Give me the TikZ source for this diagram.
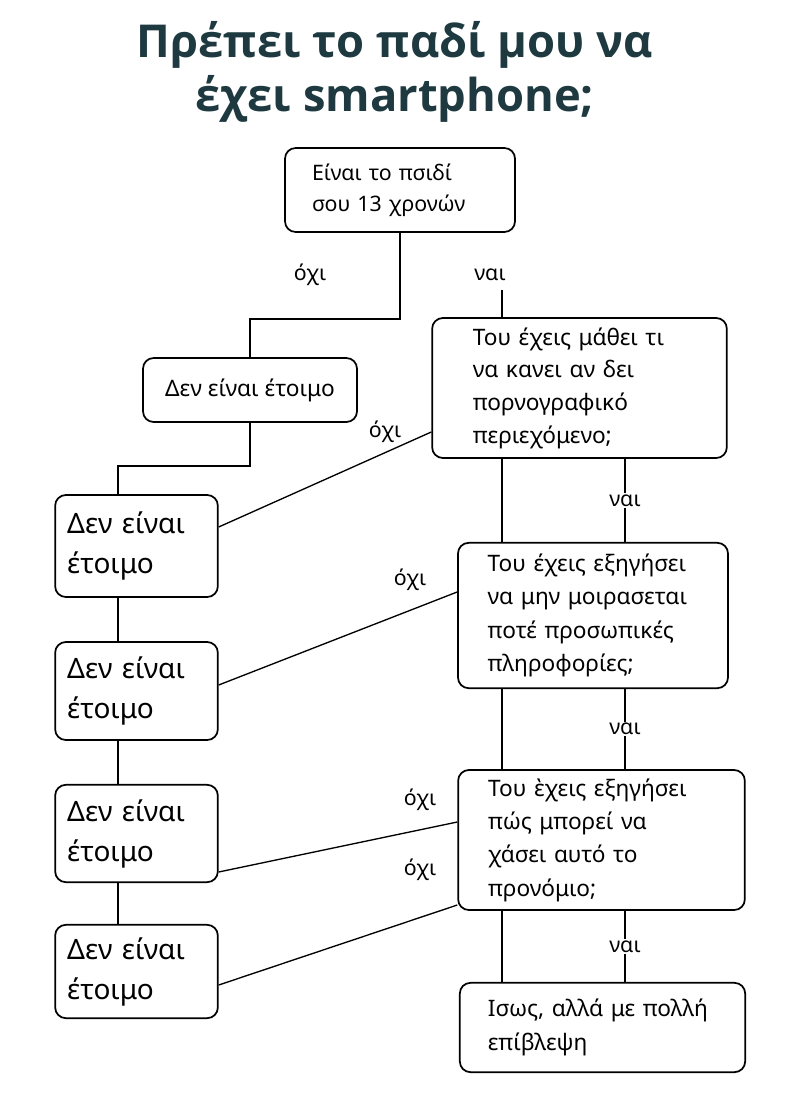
\documentclass[tikz,border=0pt]{standalone}
\usepackage{fontspec}
\setmainfont{Noto Sans}
\newfontfamily\tfont{Open Sans}
\definecolor{titlec}{HTML}{1E3A40}
\begin{document}
\begin{tikzpicture}[x=0.75pt,y=-0.75pt,
  box/.style={draw, line width=1.3pt, rounded corners=8pt, align=left, inner sep=0pt},
  lab/.style={font=\fontsize{16}{18}\selectfont, inner sep=1pt},
  ln/.style={line width=1pt}]
\useasboundingbox (0,0) rectangle (800,1102);
\node[font=\tfont\fontsize{34}{40}\selectfont\bfseries, text=titlec, align=center] (title) at (395,72) {Πρέπει το παδί μου να\\έχει smartphone;};
\node[box, minimum width=172.5pt, minimum height=63pt, text width=132pt, font=\fontsize{16}{23}\selectfont] (b1) at (400,190) {Είναι το πσιδί\\σου 13 χρονών};
\node[box, minimum width=160.5pt, minimum height=48pt, align=center, font=\fontsize{17}{22}\selectfont] (b2) at (250,390) {Δεν είναι έτοιμο};
\node[box, minimum width=221pt, minimum height=105pt, text width=160pt, font=\fontsize{17}{24.5}\selectfont] (b3) at (579.5,388) {Του έχεις μάθει τι\\να κανει αν δει\\πορνογραφικό\\περιεχόμενο;};
\node[box, minimum width=122pt, minimum height=76.5pt, text width=104pt, font=\fontsize{21}{30}\selectfont] (b4) at (136.5,546) {Δεν είναι\\έτοιμο};
\node[box, minimum width=202.5pt, minimum height=109pt, text width=158pt, font=\fontsize{17}{25}\selectfont] (b5) at (593,615.5) {Του έχεις εξηγήσει\\να μην μοιρασεται\\ποτέ προσωπικές\\πληροφορίες;};
\node[box, minimum width=122pt, minimum height=73.5pt, text width=104pt, font=\fontsize{21}{30}\selectfont] (b6) at (136.5,691) {Δεν είναι\\έτοιμο};
\node[box, minimum width=215pt, minimum height=105pt, text width=170pt, font=\fontsize{17}{25}\selectfont] (b7) at (601.5,840) {Του ὲχεις εξηγήσει\\πώς μπορεί να\\χάσει αυτό το\\προνόμιο;};
\node[box, minimum width=122pt, minimum height=73pt, text width=104pt, font=\fontsize{21}{30}\selectfont] (b8) at (136.5,833.5) {Δεν είναι\\έτοιμο};
\node[box, minimum width=122pt, minimum height=70pt, text width=104pt, font=\fontsize{21}{30}\selectfont] (b9) at (136.5,971.5) {Δεν είναι\\έτοιμο};
\node[box, minimum width=214pt, minimum height=67pt, text width=172pt, font=\fontsize{17}{25}\selectfont] (b10) at (602.5,1027.5) {Ισως, αλλά με πολλή\\επίβλεψη};
% helper coordinates
\coordinate (xl) at (118,0);
\coordinate (xa) at (502,0);
\coordinate (xb) at (625,0);
\coordinate (n0) at (502,290);
\coordinate (y1) at (0,432); \coordinate (y2) at (0,527);
\coordinate (y3) at (0,592); \coordinate (y4) at (0,685);
\coordinate (y5) at (0,822); \coordinate (y6) at (0,872);
\coordinate (y7) at (0,905); \coordinate (y8) at (0,985);
% connectors
\draw[ln] (b1.south) -- ++(0,86) -| (b2.north);
\node[lab] (o1) at (310,275) {όχι};
\node[lab] (v0) at (490,275) {ναι};
\draw[ln] (n0) -- (n0 |- b3.north);
\draw[ln] (b2.south) -- ++(0,43) -| (b4.north -| xl);
\draw[ln] (b4.south -| xl) -- (b6.north -| xl);
\draw[ln] (b6.south -| xl) -- (b8.north -| xl);
\draw[ln] (b8.south -| xl) -- (b9.north -| xl);
\draw[ln] (b3.west |- y1) -- (b4.east |- y2);
\node[lab] (o2) at (385,432) {όχι};
\draw[ln] (b5.west |- y3) -- (b6.east |- y4);
\node[lab] (o3) at (410,580) {όχι};
\draw[ln] (b7.west |- y5) -- (b8.east |- y6);
\node[lab] (o4) at (420,800) {όχι};
\draw[ln] (b7.west |- y7) -- (b9.east |- y8);
\node[lab] (o5) at (420,870) {όχι};
\draw[ln] (b3.south -| xa) -- (b5.north -| xa);
\draw[ln] (b3.south -| xb) -- (b5.north -| xb) node[lab, midway, fill=white] (v1) {ναι};
\draw[ln] (b5.south -| xa) -- (b7.north -| xa);
\draw[ln] (b5.south -| xb) -- (b7.north -| xb) node[lab, midway, fill=white] (v2) {ναι};
\draw[ln] (b7.south -| xa) -- (b10.north -| xa);
\draw[ln] (b7.south -| xb) -- (b10.north -| xb) node[lab, midway, fill=white] (v3) {ναι};
\end{tikzpicture}
\end{document}
